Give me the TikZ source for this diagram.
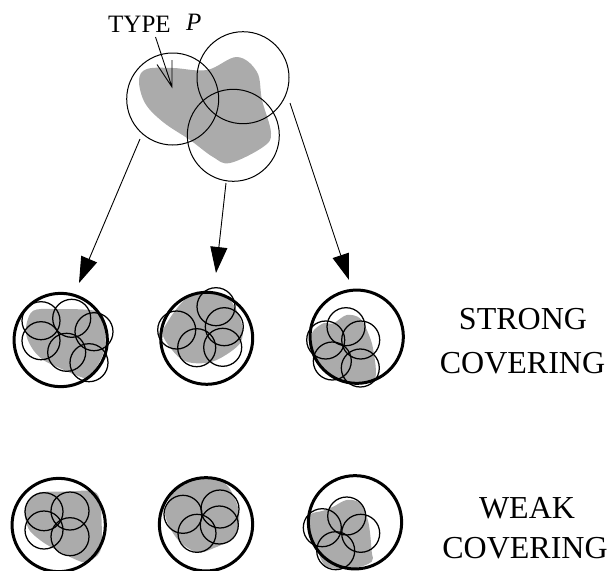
\documentclass[tikz,border=0pt]{standalone}
\usepackage{fontspec}
\setmainfont{Liberation Serif}
\usetikzlibrary{arrows.meta}
\definecolor{blobgray}{gray}{0.67}
\tikzset{
 x=1pt,y=-1pt,
 blob/.style={fill=blobgray,draw=none},
 bigc/.style={draw=black,line width=3pt,fill=none,circle,inner sep=0pt},
 smallc/.style={draw=black,line width=1.25pt,fill=none,circle,inner sep=0pt,minimum size=38pt},
 topc/.style={draw=black,line width=1pt,fill=none,circle,inner sep=0pt,minimum size=92pt},
 thinline/.style={draw=black,line width=0.9pt},
 bigarrow/.style={draw=black,line width=0.9pt,-{Triangle[length=26pt,width=17pt]},shorten >=0pt},
 lab/.style={font=\fontsize{32}{37}\selectfont,inner sep=0pt,anchor=base},
}
\newcommand{\smallcirc}[2]{\node[smallc] at (#1,#2) {};}
\newcommand{\bigcirq}[3]{\node[bigc,minimum size=#3pt] at (#1,#2) {};}
\begin{document}
\begin{tikzpicture}
\useasboundingbox (0,0) rectangle (610,570);
% top blob
\fill[blob,xshift=90pt] plot[smooth cycle,tension=0.6] coordinates {
(49,80)(57,69)(83,68)(117,70)(147,57)(167,72)(172,100)(181,133)(173,147)(140,163)(123,157)(100,140)(73,122)(55,103)};
\node[topc] (t1) at (172.7,99) {};
\node[topc] (t2) at (243,77.7) {};
\node[topc] (t3) at (233.3,135.3) {};
\node[font=\fontsize{25}{30}\selectfont,inner sep=0pt,anchor=base west] (typ) at (108,32) {TYPE};
\node[font=\fontsize{25}{30}\selectfont\itshape,inner sep=0pt,anchor=base west] (pp) at (186,30) {P};
\coordinate (a0) at (155.5,37);
\coordinate (a1) at (172,87);
\coordinate (a2) at (157,64.5);
\coordinate (a3) at (172,60);
\draw[thinline] (a0)--(a1) (a2)--(a1)--(a3);
% arrows
\coordinate (s1) at (140,139);
\coordinate (e1) at (79,283);
\coordinate (s2) at (226,183);
\coordinate (e2) at (216,273);
\coordinate (s3) at (290,103);
\coordinate (e3) at (349,280);
\draw[bigarrow] (s1)--(e1);
\draw[bigarrow] (s2)--(e2);
\draw[bigarrow] (s3)--(e3);
% strong 1
\fill[blob] plot[smooth cycle,tension=0.55] coordinates {(26.7,323.3)(33.3,310.7)(53.3,309)(98.3,311.7)(105,330)(103.3,353.3)(90,376.7)(80,376.7)(56.7,366.7)(43.3,360)(33.3,350)(26.7,336.7)};
\bigcirq{60.7}{340}{93.3}
\smallcirc{41}{320.7}\smallcirc{71.7}{318.3}\smallcirc{94}{331.7}\smallcirc{41}{340.7}\smallcirc{66.7}{352.3}\smallcirc{89}{362.7}
% strong 2
\fill[blob] plot[smooth cycle,tension=0.55] coordinates {(166.7,323.3)(186.7,298.3)(213.3,293.3)(230,300)(241.7,323.3)(240,343.3)(216.7,360)(196.7,363.3)(180,358.3)(163.3,336.7)};
\bigcirq{206.7}{338.3}{92}
\smallcirc{176.7}{330}\smallcirc{216}{306.7}\smallcirc{224.3}{326.7}\smallcirc{196.7}{347.7}\smallcirc{222.7}{347.3}
% strong 3
\fill[blob] plot[smooth cycle,tension=0.55] coordinates {(312.7,331.7)(323.3,323.3)(333.3,323.3)(346.7,315)(360,318.3)(368.3,333.3)(373.3,350)(375,378.3)(356.7,383.3)(333.3,378.3)(316.7,360)(311.7,343.3)};
\bigcirq{356.7}{336.7}{93.3}
\smallcirc{346}{326.7}\smallcirc{360.7}{340}\smallcirc{325.7}{340}\smallcirc{332.3}{361}\smallcirc{360.3}{368}
% weak 1
\fill[blob] plot[smooth cycle,tension=0.55] coordinates {(25,508.3)(36.7,493.3)(66.7,491.7)(96.7,493.3)(101.7,525)(100,551.7)(86.7,561.7)(76.7,560)(53.3,548.3)(40,540)(28.3,528.3)};
\bigcirq{58.7}{525}{93.3}
\smallcirc{44}{511.7}\smallcirc{70}{511}\smallcirc{44}{530}\smallcirc{70}{536.7}
% weak 2
\fill[blob] plot[smooth cycle,tension=0.55] coordinates {(165,511.7)(180,485)(206.7,478.3)(226.7,485)(238.3,508.3)(238.3,528.3)(230,540)(213.3,548.3)(196.7,552.3)(176.7,538.3)};
\bigcirq{206}{524.3}{93.3}
\smallcirc{183}{514.3}\smallcirc{220}{509}\smallcirc{219.3}{525}\smallcirc{197}{533.3}
% weak 3
\fill[blob] plot[smooth cycle,tension=0.55] coordinates {(310,515)(323.3,510.7)(333.3,506.7)(346.7,500)(360,503.3)(368.3,521.7)(371.7,551.7)(371.7,561.7)(353.3,568.3)(326.7,566.7)(316.7,548.3)(310,531.7)};
\bigcirq{355}{522.3}{93.3}
\smallcirc{346.7}{516}\smallcirc{360.7}{533.3}\smallcirc{322.3}{527.7}\smallcirc{335.7}{550.7}
% labels
\node[lab] (l1) at (523,329) {STRONG};
\node[lab] (l2) at (522.5,373) {COVERING};
\node[lab] (l3) at (527,518) {WEAK};
\node[lab] (l4) at (525,558) {COVERING};
\end{tikzpicture}
\end{document}
